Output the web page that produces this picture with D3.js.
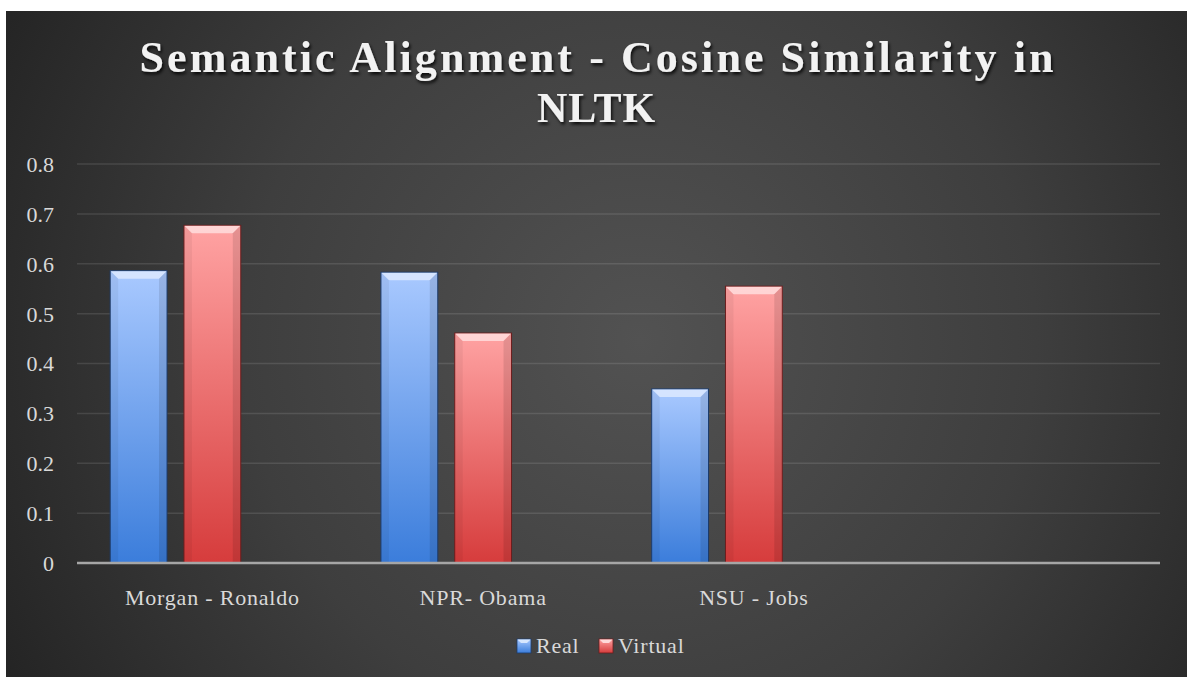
<!DOCTYPE html>
<html>
<head>
<meta charset="utf-8">
<script src="https://cdn.jsdelivr.net/npm/d3@7"></script>
<style>
  html, body {margin: 0; padding: 0; background: #fff;}
  svg {display: block;}
</style>
</head>
<body>
<svg id="chart"></svg>
<script>
const categories = ['Morgan - Ronaldo', 'NPR- Obama', 'NSU - Jobs', ''];
const seriesNames = ['Real', 'Virtual'];
// the source chart keeps a third, empty series slot in each cluster
const slotNames = ['Real', 'Virtual', 'blank'];
const realValues = [0.586, 0.583, 0.349, null];
const virtualValues = [0.677, 0.461, 0.555, null];
const yTicks = [0, 0.1, 0.2, 0.3, 0.4, 0.5, 0.6, 0.7, 0.8];
const titleLines = ['Semantic Alignment - Cosine Similarity in', 'NLTK'];

const width = 1187;
const height = 677;
const frame = {x: 6, y: 11, w: 1181, h: 666};
const plotLeft = 77;
const plotRight = 1160;
const plotTop = 164;
const plotBottom = 563;
const serif = '"Liberation Serif", "DejaVu Serif", serif';

const svg = d3.select('#chart')
    .attr('width', width)
    .attr('height', height)
    .attr('viewBox', [0, 0, width, height]);

const defs = svg.append('defs');

const bg = defs.append('radialGradient')
    .attr('id', 'bg')
    .attr('gradientUnits', 'userSpaceOnUse')
    .attr('cx', 640).attr('cy', 340).attr('r', 720);
bg.append('stop').attr('offset', '0%').attr('stop-color', '#525252');
bg.append('stop').attr('offset', '55%').attr('stop-color', '#3e3e3e');
bg.append('stop').attr('offset', '100%').attr('stop-color', '#242424');

const barColors = {
  Real: {top: '#a9c9ff', bottom: '#3b7ddb', edge: '#1d3c6b', light: '#e4eeff'},
  Virtual: {top: '#ffa3a3', bottom: '#d63c3c', edge: '#6b1d1d', light: '#ffe6e6'},
};
seriesNames.forEach((s) => {
  const g = defs.append('linearGradient')
      .attr('id', 'grad-' + s)
      .attr('x1', 0).attr('y1', 0).attr('x2', 0).attr('y2', 1);
  g.append('stop').attr('offset', '0%').attr('stop-color', barColors[s].top);
  g.append('stop').attr('offset', '100%').attr('stop-color', barColors[s].bottom);
});

const shadow = defs.append('filter')
    .attr('id', 'shadow')
    .attr('x', '-10%').attr('y', '-20%').attr('width', '120%').attr('height', '150%');
shadow.append('feDropShadow')
    .attr('dx', 1.5).attr('dy', 2.5).attr('stdDeviation', 1.5)
    .attr('flood-color', '#000').attr('flood-opacity', 0.8);

svg.append('rect')
    .attr('x', frame.x).attr('y', frame.y)
    .attr('width', frame.w).attr('height', frame.h)
    .attr('fill', 'url(#bg)');

// title
const title = svg.append('g')
    .selectAll('text')
    .data(titleLines)
    .join('text')
    .attr('x', 596.5)
    .attr('y', (d, i) => 72 + i * 49.5)
    .attr('text-anchor', 'middle')
    .attr('font-family', serif)
    .attr('font-weight', 'bold')
    .attr('font-size', 44)
    .attr('fill', '#f2f2f2')
    .attr('filter', 'url(#shadow)')
    .text((d) => d);
title.filter((d, i) => i === 0)
    .attr('textLength', 914)
    .attr('lengthAdjust', 'spacing');
title.filter((d, i) => i === 1)
    .attr('font-size', 42)
    .attr('letter-spacing', 1);

const x0 = d3.scaleBand()
    .domain(categories.map((d, i) => i))
    .range([plotLeft, plotRight]);
const x1 = d3.scaleBand()
    .domain(slotNames)
    .range([0, x0.bandwidth()])
    .paddingInner(0.23)
    .paddingOuter(0.45);
const y = d3.scaleLinear()
    .domain([0, 0.8])
    .range([plotBottom, plotTop]);

// gridlines
svg.append('g')
    .selectAll('line')
    .data(yTicks.slice(1))
    .join('line')
    .attr('x1', plotLeft).attr('x2', plotRight)
    .attr('y1', (d) => y(d)).attr('y2', (d) => y(d))
    .attr('stroke', '#ffffff')
    .attr('stroke-opacity', 0.11)
    .attr('stroke-width', 1.5);

const yAxis = d3.axisLeft(y)
    .tickValues(yTicks)
    .tickSize(0)
    .tickPadding(23)
    .tickFormat((d) => d3.format('')(+d.toFixed(1)));
svg.append('g')
    .attr('transform', `translate(${plotLeft},0)`)
    .call(yAxis)
    .call((g) => g.select('.domain').remove())
    .selectAll('text')
    .attr('font-family', serif)
    .attr('font-size', 22)
    .attr('fill', '#d9d9d9')
    .attr('dy', '0.34em');

// bars
const rows = categories.map((c, i) => ({
  index: i,
  values: [
    {key: 'Real', value: realValues[i]},
    {key: 'Virtual', value: virtualValues[i]},
  ].filter((d) => d.value !== null),
}));

const bars = svg.append('g')
    .selectAll('g')
    .data(rows)
    .join('g')
    .attr('transform', (d) => `translate(${x0(d.index)},0)`)
    .selectAll('g')
    .data((d) => d.values)
    .join('g');

const bw = x1.bandwidth();
bars.append('rect')
    .attr('x', (d) => x1(d.key))
    .attr('y', (d) => y(d.value))
    .attr('width', bw)
    .attr('height', (d) => plotBottom - y(d.value))
    .attr('fill', (d) => `url(#grad-${d.key})`)
    .attr('stroke', (d) => barColors[d.key].edge)
    .attr('stroke-width', 1);

// bevel: top facet, side facets
const bevel = 8;
bars.append('path')
    .attr('d', (d) => {
      const bx = x1(d.key);
      const by = y(d.value);
      return `M${bx + 0.5},${by + 0.5}L${bx + bw - 0.5},${by + 0.5}` +
        `L${bx + bw - bevel},${by + bevel}L${bx + bevel},${by + bevel}Z`;
    })
    .attr('fill', (d) => barColors[d.key].light)
    .attr('fill-opacity', 0.75);
bars.append('path')
    .attr('d', (d) => {
      const bx = x1(d.key);
      const by = y(d.value);
      return `M${bx + 0.5},${by + 0.5}L${bx + bevel},${by + bevel}` +
        `L${bx + bevel},${plotBottom}L${bx + 0.5},${plotBottom}Z`;
    })
    .attr('fill', '#000')
    .attr('fill-opacity', 0.05);
bars.append('path')
    .attr('d', (d) => {
      const bx = x1(d.key);
      const by = y(d.value);
      return `M${bx + bw - 0.5},${by + 0.5}L${bx + bw - bevel},${by + bevel}` +
        `L${bx + bw - bevel},${plotBottom}L${bx + bw - 0.5},${plotBottom}Z`;
    })
    .attr('fill', '#000')
    .attr('fill-opacity', 0.1);

// x axis line
svg.append('line')
    .attr('x1', plotLeft).attr('x2', plotRight)
    .attr('y1', plotBottom).attr('y2', plotBottom)
    .attr('stroke', '#a6a6a6')
    .attr('stroke-width', 2.5);

const xAxis = d3.axisBottom(x0)
    .tickSize(0)
    .tickPadding(26)
    .tickFormat((d) => categories[d]);
svg.append('g')
    .attr('transform', `translate(0,${plotBottom})`)
    .call(xAxis)
    .call((g) => g.select('.domain').remove())
    .selectAll('text')
    .attr('font-family', serif)
    .attr('font-size', 22)
    .attr('letter-spacing', 0.8)
    .attr('fill', '#d9d9d9');

// legend
const legendX = [517, 599];
const legend = svg.append('g')
    .selectAll('g')
    .data(seriesNames)
    .join('g')
    .attr('transform', (d, i) => `translate(${legendX[i]},639)`);
legend.append('rect')
    .attr('width', 14).attr('height', 14)
    .attr('fill', (d) => `url(#grad-${d})`)
    .attr('stroke', (d) => barColors[d].edge)
    .attr('stroke-width', 0.8);
legend.append('path')
    .attr('d', 'M0.5,0.5L13.5,0.5L10,4L4,4Z')
    .attr('fill', (d) => barColors[d].light)
    .attr('fill-opacity', 0.85);
legend.append('text')
    .attr('x', 19)
    .attr('y', 14)
    .attr('font-family', serif)
    .attr('font-size', 22)
    .attr('letter-spacing', 0.8)
    .attr('fill', '#d9d9d9')
    .text((d) => d);
</script>
</body>
</html>
